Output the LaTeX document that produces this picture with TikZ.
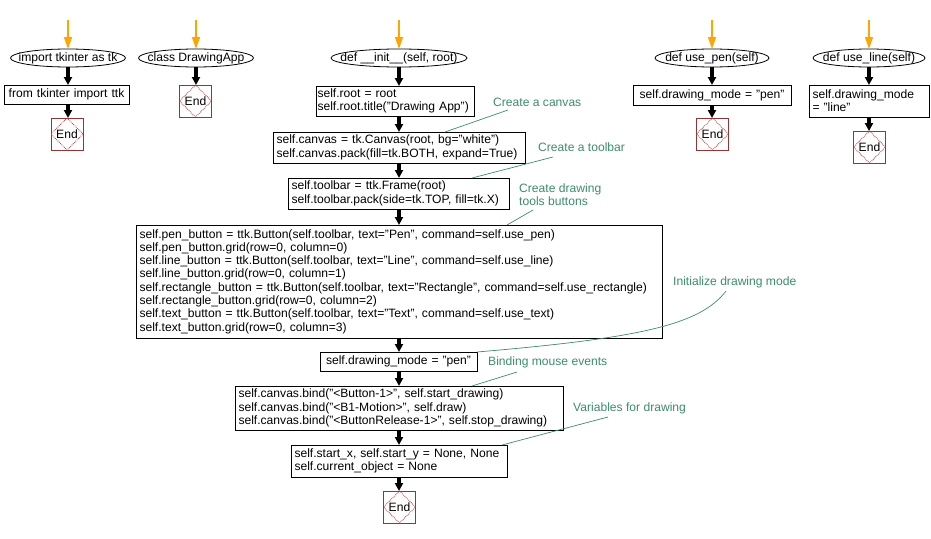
\documentclass[tikz,border=0pt]{standalone}
\usepackage{fontspec}
\setmainfont{Liberation Sans}
\usetikzlibrary{shapes.geometric,arrows.meta,calc}
\definecolor{endred}{RGB}{153,51,51}
\definecolor{diared}{RGB}{190,60,60}
\definecolor{cmtgreen}{RGB}{62,140,110}
\definecolor{arrorange}{RGB}{255,165,0}
\newcommand{\ztext}[1]{\makebox[0pt][c]{#1}}
\tikzset{
 codetext/.style={font=\fontsize{12.1}{13.3}\selectfont},
 codebox/.style={draw, line width=0.8pt, inner xsep=3.5pt, inner ysep=0pt, outer sep=0pt, align=left, codetext},
 codeboxc/.style={codebox, align=center},
 startell/.style={ellipse, draw, line width=0.8pt, inner sep=0pt, outer sep=0pt, minimum height=18pt, codetext},
 endbox/.style={rectangle, draw=endred, line width=0.8pt, minimum width=32pt, minimum height=32pt, inner sep=0pt, outer sep=0pt, codetext},
 enddia/.style={draw=diared, densely dotted, line width=0.8pt},
 flow/.style={line width=4.5pt, -{Triangle[width=8pt,length=8pt]}},
 entry/.style={draw=arrorange, line width=1.3pt, -{Triangle[width=8pt,length=12pt]}},
 cmt/.style={text=cmtgreen, inner sep=0pt, anchor=west, align=left, codetext},
 cmtline/.style={draw=cmtgreen, line width=0.7pt},
}
\begin{document}
\begin{tikzpicture}[x=1pt,y=-1pt]
\fill[white] (0,0) rectangle (931,538);
\useasboundingbox (0,0) rectangle (931,538);

% start ellipses
\node[startell, minimum width=115pt] (s1) at (68,58) {\ztext{import tkinter as tk}};
\node[startell, minimum width=115pt] (s2) at (196,58) {\ztext{class DrawingApp}};
\node[startell, minimum width=136pt] (s3) at (399,58) {\ztext{def \_\_init\_\_(self, root)}};
\node[startell, minimum width=114pt] (s4) at (712,58) {\ztext{def use\_pen(self)}};
\node[startell, minimum width=112pt] (s5) at (869,58) {\ztext{def use\_line(self)}};

% entry arrows
\coordinate (t1) at (68,20);
\coordinate (t2) at (196,20);
\coordinate (t3) at (399,20);
\coordinate (t4) at (712,20);
\coordinate (t5) at (869,20);
\draw[entry] (t1) -- (s1.north);
\draw[entry] (t2) -- (s2.north);
\draw[entry] (t3) -- (s3.north);
\draw[entry] (t4) -- (s4.north);
\draw[entry] (t5) -- (s5.north);

% boxes
\node[codeboxc, text width=118pt, minimum height=19pt] (f1) at (66.5,94.5) {from tkinter import ttk};
\node[codebox, inner xsep=1.5pt, text width=155pt, minimum height=30pt] (r1) at (395,101) {self.root = root\\self.root.title("Drawing App")};
\node[codebox, text width=245pt, minimum height=31pt] (r2) at (399,147.5) {self.canvas = tk.Canvas(root, bg="white")\\self.canvas.pack(fill=tk.BOTH, expand=True)};
\node[codebox, text width=214pt, minimum height=31pt] (r3) at (398.5,193.5) {self.toolbar = ttk.Frame(root)\\self.toolbar.pack(side=tk.TOP, fill=tk.X)};
\node[codebox, text width=519pt, minimum height=113pt] (r4) at (399,281.5) {self.pen\_button = ttk.Button(self.toolbar, text="Pen", command=self.use\_pen)\\
self.pen\_button.grid(row=0, column=0)\\
self.line\_button = ttk.Button(self.toolbar, text="Line", command=self.use\_line)\\
self.line\_button.grid(row=0, column=1)\\
self.rectangle\_button = ttk.Button(self.toolbar, text="Rectangle", command=self.use\_rectangle)\\
self.rectangle\_button.grid(row=0, column=2)\\
self.text\_button = ttk.Button(self.toolbar, text="Text", command=self.use\_text)\\
self.text\_button.grid(row=0, column=3)};
\node[codeboxc, text width=150pt, minimum height=19pt] (r5) at (398.5,361.5) {self.drawing\_mode = "pen"};
\node[codebox, text width=321pt, minimum height=44pt] (r6) at (399,408) {self.canvas.bind("<Button-1>", self.start\_drawing)\\self.canvas.bind("<B1-Motion>", self.draw)\\self.canvas.bind("<ButtonRelease-1>", self.stop\_drawing)};
\node[codebox, text width=209pt, minimum height=32pt] (r7) at (399,461) {self.start\_x, self.start\_y = None, None\\self.current\_object = None};
\node[codeboxc, text width=151pt, minimum height=20pt] (p1) at (712,95) {self.drawing\_mode = "pen"};
\node[codebox, text width=113pt, minimum height=32pt] (l1) at (869,101) {self.drawing\_mode\\= "line"};

% end nodes
\node[endbox] (e1) at (67,134) {End};
\node[endbox] (e2) at (195.5,101) {End};
\node[endbox] (e3) at (399.5,507) {End};
\node[endbox] (e4) at (712.5,134) {End};
\node[endbox] (e5) at (869.5,147) {End};
\foreach \e in {e1,e2,e3,e4,e5}{
  \draw[enddia] (\e.north) -- (\e.east) -- (\e.south) -- (\e.west) -- cycle;
}

% flow arrows
\draw[flow] (s1.south) -- (s1.south |- f1.north);
\draw[flow] (s1.south |- f1.south) -- (s1.south |- e1.north);
\draw[flow] (s2.south) -- (s2.south |- e2.north);
\draw[flow] (s3.south) -- (s3.south |- r1.north);
\draw[flow] (s3.south |- r1.south) -- (s3.south |- r2.north);
\draw[flow] (s3.south |- r2.south) -- (s3.south |- r3.north);
\draw[flow] (s3.south |- r3.south) -- (s3.south |- r4.north);
\draw[flow] (s3.south |- r4.south) -- (s3.south |- r5.north);
\draw[flow] (s3.south |- r5.south) -- (s3.south |- r6.north);
\draw[flow] (s3.south |- r6.south) -- (s3.south |- r7.north);
\draw[flow] (s3.south |- r7.south) -- (s3.south |- e3.north);
\draw[flow] (s4.south) -- (s4.south |- p1.north);
\draw[flow] (s4.south |- p1.south) -- (s4.south |- e4.north);
\draw[flow] (s5.south) -- (s5.south |- l1.north);
\draw[flow] (s5.south |- l1.south) -- (s5.south |- e5.north);

% comments
\node[cmt] (c1) at (493,102) {Create a canvas};
\node[cmt] (c2) at (538,147) {Create a toolbar};
\node[cmt] (c3) at (519,194.5) {Create drawing\\tools buttons};
\node[cmt] (c4) at (673,282) {Initialize drawing mode};
\node[cmt] (c5) at (488,362) {Binding mouse events};
\node[cmt] (c6) at (573,408) {Variables for drawing};

\coordinate (k1) at (508,110);
\coordinate (k2) at (553,157);
\coordinate (k3) at (533,210);
\coordinate (k4) at (726,291);
\coordinate (k5) at (517,372);
\coordinate (k6) at (608,417);
\draw[cmtline] (k1) -- ([xshift=172pt]r2.north west);
\draw[cmtline] (k2) -- ([xshift=184pt]r3.north west);
\draw[cmtline] (k3) -- ([xshift=371pt]r4.north west);
\draw[cmtline] (k4) .. controls (700,325) and (640,338) .. (r5.north east);
\draw[cmtline] (k5) -- ([xshift=237pt]r6.north west);
\draw[cmtline] (k6) -- ([xshift=211pt]r7.north west);
\end{tikzpicture}
\end{document}
